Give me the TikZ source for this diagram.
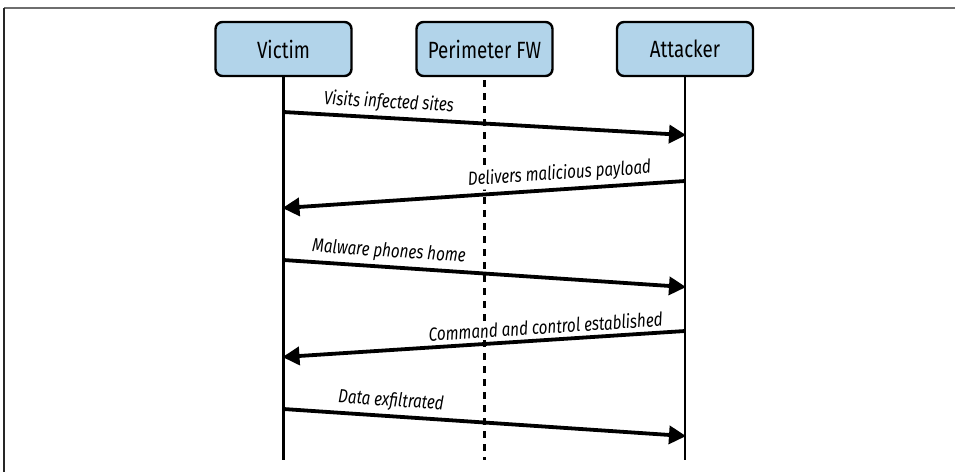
\documentclass[tikz,border=0pt]{standalone}
\usepackage{fontspec}
\setmainfont{Fira Sans}[FakeStretch=0.8]
\usetikzlibrary{arrows.meta}
\definecolor{actorfill}{RGB}{178,212,234}
\definecolor{framegray}{RGB}{110,110,110}
\begin{document}
\begin{tikzpicture}[x=1pt,y=-1pt,
  actor/.style={draw=black, line width=2.4pt, fill=actorfill, rounded corners=7pt,
    minimum width=136pt, minimum height=54pt, inner sep=0pt, font=\fontsize{23.5}{28}\selectfont},
  lifeline/.style={line width=2.3pt},
  fwline/.style={line width=2.3pt, dash pattern=on 7pt off 6pt},
  msg/.style={line width=3.8pt, -{Triangle[length=17pt,width=18pt]}, shorten >=-1pt},
  msglabel/.style={sloped, above=3pt, fill=white, inner sep=1pt,
    font=\fontsize{19}{22}\selectfont\itshape}]
  \useasboundingbox (0,0) rectangle (955,472);
  % page frame
  \draw[framegray, line width=2pt] (4,7.5) -- (955,7.5);
  \draw[black!85, line width=2pt] (4,7.5) -- (4,472);

  % participants
  \node[actor] (victim)   at (283.5,49) {Victim};
  \node[actor] (fw)       at (484.5,49) {Perimeter FW};
  \node[actor] (attacker) at (685,49)   {Attacker};

  % lifeline ends
  \coordinate (victimEnd)   at (283.5,460);
  \coordinate (fwEnd)       at (484.5,460);
  \coordinate (attackerEnd) at (685,460);

  \draw[lifeline] (victim.south) -- (victimEnd);
  \draw[fwline] (fw.south) ++(0,3) -- (fwEnd);
  \draw[lifeline] (attacker.south) -- (attackerEnd);

  % message end points on the lifelines
  \coordinate (v1) at (283.5,112);  \coordinate (a1) at (685,135);
  \coordinate (a2) at (685,181);    \coordinate (v2) at (283.5,208);
  \coordinate (v3) at (283.5,260);  \coordinate (a3) at (685,287);
  \coordinate (a4) at (685,331);    \coordinate (v4) at (283.5,357);
  \coordinate (v5) at (283.5,409);  \coordinate (a5) at (685,436);

  % messages
  \draw[msg] (v1) -- node[msglabel, pos=0.26] {Visits infected sites} (a1);
  \draw[msg] (a2) -- node[msglabel, pos=0.31] {Delivers malicious payload} (v2);
  \draw[msg] (v3) -- node[msglabel, pos=0.26] {Malware phones home} (a3);
  \draw[msg] (a4) -- node[msglabel, pos=0.345] {Command and control established} (v4);
  \draw[msg] (v5) -- node[msglabel, pos=0.265] {Data exfiltrated} (a5);
\end{tikzpicture}
\end{document}
